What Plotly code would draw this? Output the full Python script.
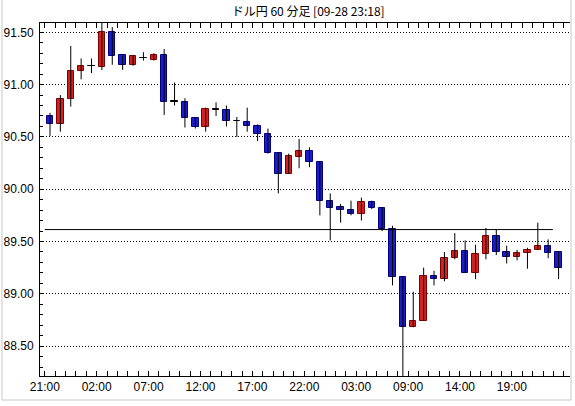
import plotly.graph_objects as go

# ---- data ----
times = ["21:00", "22:00", "23:00", "00:00", "01:00", "02:00", "03:00", "04:00", "05:00", "06:00",
         "07:00", "08:00", "09:00", "10:00", "11:00", "12:00", "13:00", "14:00", "15:00", "16:00",
         "17:00", "18:00", "19:00", "20:00", "21:00", "22:00", "23:00", "00:00", "01:00", "02:00",
         "03:00", "04:00", "05:00", "06:00", "08:00", "09:00", "10:00", "11:00", "12:00", "13:00",
         "14:00", "15:00", "16:00", "17:00", "18:00", "19:00", "20:00", "21:00", "22:00", "23:00"]
opens = [90.70, 90.62, 90.86, 91.13, 91.175, 91.17, 91.50, 91.28, 91.19, 91.25,
         91.24, 91.28, 90.84, 90.83, 90.68, 90.59, 90.76, 90.76, 90.65, 90.64,
         90.60, 90.53, 90.35, 90.15, 90.31, 90.37, 90.26, 89.89, 89.83, 89.80,
         89.76, 89.88, 89.82, 89.62, 89.16, 88.68, 88.74, 89.17, 89.14, 89.34,
         89.41, 89.20, 89.38, 89.55, 89.40, 89.35, 89.39, 89.42, 89.46, 89.40]
highs = [90.73, 90.90, 91.37, 91.25, 91.25, 91.62, 91.55, 91.28, 91.28, 91.31,
         91.30, 91.34, 91.02, 90.87, 90.69, 90.78, 90.83, 90.80, 90.69, 90.78,
         90.62, 90.58, 90.35, 90.34, 90.48, 90.40, 90.27, 89.96, 89.86, 89.89,
         89.92, 89.89, 89.83, 89.65, 89.16, 89.02, 89.25, 89.22, 89.40, 89.58,
         89.51, 89.47, 89.63, 89.62, 89.46, 89.42, 89.44, 89.68, 89.52, 89.40]
lows = [90.51, 90.55, 90.79, 91.05, 91.11, 91.14, 91.19, 91.14, 91.18, 91.23,
        91.23, 90.71, 90.80, 90.59, 90.58, 90.55, 90.70, 90.60, 90.50, 90.55,
        90.46, 90.34, 89.96, 90.15, 90.20, 90.21, 89.75, 89.51, 89.68, 89.75,
        89.70, 89.81, 89.60, 89.08, 88.20, 88.68, 88.74, 89.08, 89.12, 89.33,
        89.20, 89.14, 89.33, 89.37, 89.29, 89.32, 89.24, 89.42, 89.34, 89.14]
closes = [90.62, 90.86, 91.13, 91.18, 91.178, 91.50, 91.27, 91.19, 91.27, 91.253,
          91.28, 90.83, 90.837, 90.68, 90.59, 90.77, 90.765, 90.65, 90.652, 90.60,
          90.53, 90.35, 90.15, 90.32, 90.37, 90.26, 89.89, 89.82, 89.80, 89.76,
          89.88, 89.82, 89.62, 89.16, 88.68, 88.74, 89.17, 89.14, 89.34, 89.41,
          89.20, 89.38, 89.55, 89.40, 89.35, 89.39, 89.42, 89.46, 89.39, 89.25]
ref_level = 89.614
title_text = "ドル円 60 分足 [09-28 23:18]"

UP_FILL, UP_LINE = "#D42020", "#800000"
DN_FILL, DN_LINE = "#1C1CC8", "#000080"

n = len(closes)
idx = list(range(n))

# wicks
wx, wy = [], []
for i in idx:
    wx += [i, i, None]
    wy += [lows[i], highs[i], None]

bases, heights, fills, lines = [], [], [], []
for i in idx:
    o, c = opens[i], closes[i]
    bases.append(min(o, c))
    heights.append(max(abs(c - o), 0.004))
    if abs(c - o) < 0.01:
        fills.append("#000000"); lines.append("#000000")
    elif c > o:
        fills.append(UP_FILL); lines.append(UP_LINE)
    else:
        fills.append(DN_FILL); lines.append(DN_LINE)

fig = go.Figure()
fig.add_trace(go.Scatter(x=wx, y=wy, mode="lines", line=dict(color="#000000", width=1),
                         hoverinfo="skip", showlegend=False))
fig.add_trace(go.Bar(x=idx, y=heights, base=bases, width=0.62,
                     marker=dict(color=fills, line=dict(color=lines, width=1)),
                     showlegend=False))

tickvals = [k - 0.5 for k in range(n + 1)]
ticktext = [times[k] if (k < n and k % 5 == 0) else "" for k in range(n + 1)]

fig.update_layout(
    width=575, height=406,
    margin=dict(l=40, r=5, t=23, b=30),
    paper_bgcolor="white", plot_bgcolor="white",
    bargap=0, barmode="overlay",
    font=dict(family="Liberation Sans, Arial", size=12, color="#000000"),
    title=dict(text=title_text, x=0.536, xanchor="center", y=0.970, yanchor="middle",
               font=dict(family="Noto Sans CJK JP", size=12, color="#000000")),
    xaxis=dict(range=[-0.963, 50.1], tickmode="array", tickvals=tickvals, ticktext=ticktext,
               ticks="inside", ticklen=5, tickcolor="#000000", tickwidth=1,
               showline=True, linecolor="#000000", linewidth=1, mirror="ticks",
               showgrid=False, zeroline=False, fixedrange=True),
    yaxis=dict(range=[88.214, 91.589], tickmode="linear", tick0=88.5, dtick=0.5,
               tickformat=".2f", ticks="inside", ticklen=3, tickcolor="#000000",
               ticklabelstandoff=3,
               showline=True, linecolor="#000000", linewidth=1,
               showgrid=True, gridcolor="#000000", gridwidth=1, griddash="1px,2px",
               minor=dict(dtick=0.1, tick0=88.5, ticks="inside", ticklen=3, tickcolor="#000000",
                          showgrid=False),
               zeroline=False, fixedrange=True),
    shapes=[
        dict(type="line", xref="x", yref="y", x0=-0.5, x1=48.45, y0=ref_level, y1=ref_level,
             line=dict(color="#000000", width=1)),
        dict(type="rect", xref="paper", yref="paper", x0=-0.0717, x1=1.0019, y0=-0.068, y1=1.1,
             line=dict(color="#C8C8C8", width=1), fillcolor="rgba(0,0,0,0)", layer="below"),
    ],
)

fig.write_html("out.html")
